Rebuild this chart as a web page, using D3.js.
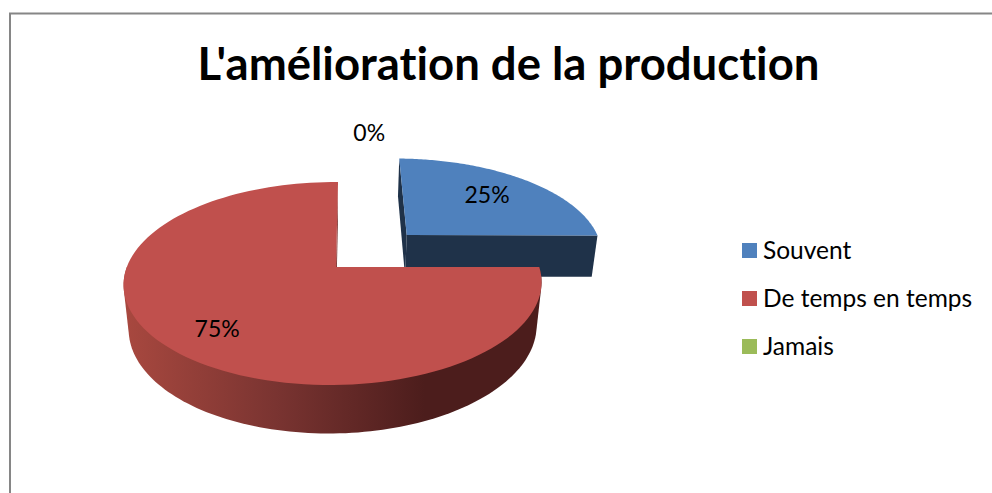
<!DOCTYPE html>
<html>

<head>
    <meta charset="utf-8">
    <style type="text/css">
    html,
    body {
        height: 100%;
        margin: 0px;
        padding: 0px;
        background: #fff;
        overflow: hidden;
        font-family: 'Lato', sans-serif;
        font-variant-ligatures: none;
    }
    </style>
    <script src="https://d3js.org/d3.v7.min.js"></script>
    <title>L'amélioration de la production</title>
</head>

<body>
</body>
<script type="text/javascript">
// data
var title = "L'amélioration de la production";
var categories = ["Souvent", "De temps en temps", "Jamais"];
var values = [25, 75, 0];
var colours = ["#4f81bd", "#c0504d", "#9bbb59"];
var sideColours = ["#1f3249", "#7b3330", "#5d7035"];

var width = 992;
var height = 493;

var svg = d3.select("body")
    .append("svg")
    .attr("width", width)
    .attr("height", height);

// frame, only top and left are in the crop
svg.append("path")
    .attr("d", "M10,493V13.5H992")
    .attr("fill", "none")
    .attr("stroke", "#868686")
    .attr("stroke-width", 2);

// 3d view: disc coords u (right), v (back), w (down), all in radius units
var view = {
    a: 211, b: 57, c: 8,
    d: 3.84, e: -55.4, f: 51,
    g: 0.0144, h: 0.1626, i: 0.024,
    x0: 336, y0: 267
};

function project(u, v, w) {
    var den = 1 + view.g * u + view.h * v + view.i * w;
    return [
        (view.a * u + view.b * v + view.c * w + view.x0) / den,
        (view.d * u + view.e * v + view.f * w + view.y0) / den
    ];
}

var explode = [[0.36, 0.343], [0, 0], [0, 0]];
var labelRadius = [0.69, 0.76, 1.74];
var labelNudge = [[-3, 0], [5, 3], [30, 0]];

var pie = d3.pie().sort(null)(values);
var line = d3.line();

function rimPoints(a0, a1, w, ox, oy) {
    var n = 120;
    return d3.range(n + 1).map(function(k) {
        var t = a0 + (a1 - a0) * k / n;
        return project(ox + Math.sin(t), oy + Math.cos(t), w);
    });
}

// gradient for the curved red side
var defs = svg.append("defs");
var grad = defs.append("linearGradient")
    .attr("id", "sideGrad")
    .attr("gradientUnits", "userSpaceOnUse")
    .attr("x1", 125).attr("y1", 0)
    .attr("x2", 425).attr("y2", 0);
grad.append("stop").attr("offset", "0").attr("stop-color", "#a8483f");
grad.append("stop").attr("offset", "0.5").attr("stop-color", "#7a3431");
grad.append("stop").attr("offset", "1").attr("stop-color", "#4c1d1c");

function drawSlice(i) {
    var d = pie[i];
    if (d.value == 0) return;
    var ox = explode[i][0];
    var oy = explode[i][1];
    var g = svg.append("g");

    // cut faces
    [d.startAngle, d.endAngle].forEach(function(t) {
        var p = [
            project(ox, oy, 0),
            project(ox + Math.sin(t), oy + Math.cos(t), 0),
            project(ox + Math.sin(t), oy + Math.cos(t), 1),
            project(ox, oy, 1)
        ];
        g.append("path")
            .attr("d", line(p) + "Z")
            .attr("fill", sideColours[i]);
    });

    // outer wall, hull of the front half gives straight silhouette edges
    var a0 = Math.max(d.startAngle, Math.PI / 2);
    var a1 = Math.min(d.endAngle, 1.5 * Math.PI);
    var wall;
    if (a1 > a0) {
        wall = d3.polygonHull(rimPoints(a0, a1, 0, ox, oy).concat(rimPoints(a0, a1, 1, ox, oy)));
        g.append("path")
            .attr("d", line(wall) + "Z")
            .attr("fill", i == 1 ? "url(#sideGrad)" : sideColours[i]);
    }

    // top face
    g.append("path")
        .attr("d", line([project(ox, oy, 0)].concat(rimPoints(d.startAngle, d.endAngle, 0, ox, oy))) + "Z")
        .attr("fill", colours[i]);
}

drawSlice(0);
drawSlice(1);

// percent labels
var total = d3.sum(values);
pie.forEach(function(d, i) {
    var mid = (d.startAngle + d.endAngle) / 2;
    var p = project(explode[i][0] + labelRadius[i] * Math.sin(mid), explode[i][1] + labelRadius[i] * Math.cos(mid), 0);
    svg.append("text")
        .attr("x", p[0] + labelNudge[i][0])
        .attr("y", p[1] + labelNudge[i][1])
        .attr("dy", "0.35em")
        .attr("text-anchor", "middle")
        .attr("font-size", 23)
        .attr("fill", "#000")
        .text(d3.format(".0%")(d.value / total));
});

svg.append("text")
    .attr("x", 508.5)
    .attr("y", 80)
    .attr("text-anchor", "middle")
    .attr("font-size", 45.5)
    .attr("font-weight", "bold")
    .attr("fill", "#000")
    .text(title);

// legend
var legendY = d3.scalePoint().domain(categories).range([250.5, 346.5]);

var legend = svg.selectAll(".legend")
    .data(categories)
    .enter().append("g")
    .attr("class", "legend")
    .attr("transform", function(d) {
        return "translate(742," + legendY(d) + ")";
    });

legend.append("rect")
    .attr("x", 0)
    .attr("y", -7.5)
    .attr("width", 15)
    .attr("height", 15)
    .attr("fill", function(d, i) {
        return colours[i];
    });

legend.append("text")
    .attr("x", 21)
    .attr("dy", "0.35em")
    .attr("font-size", 24.5)
    .attr("fill", "#000")
    .text(function(d) {
        return d;
    });
</script>

</html>
